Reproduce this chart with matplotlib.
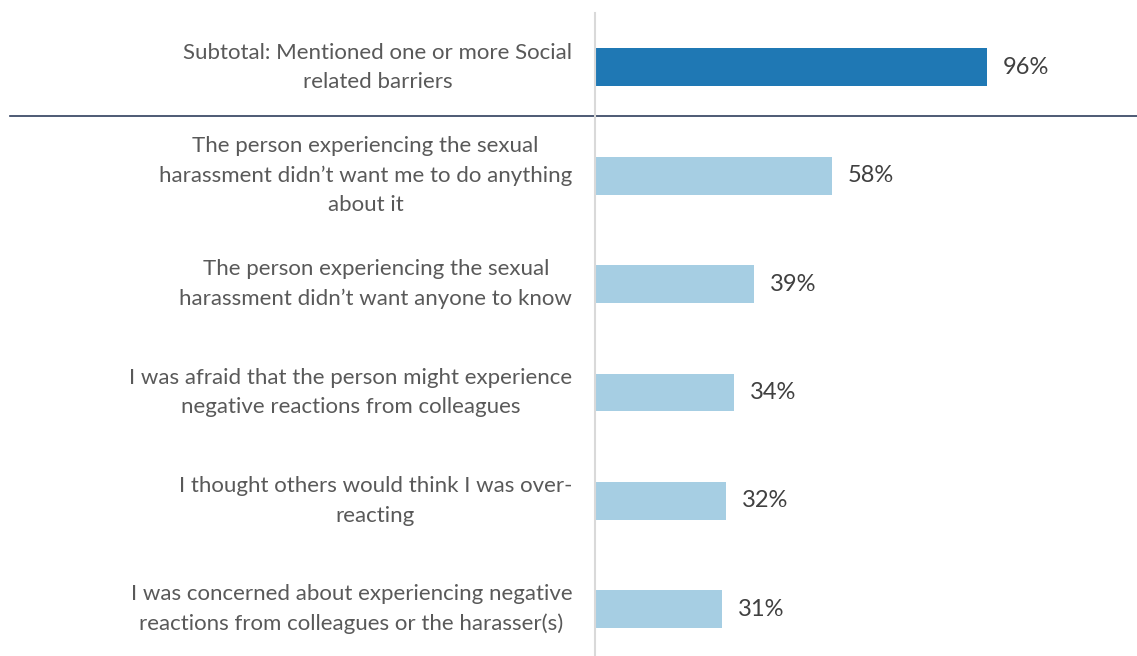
import matplotlib.pyplot as plt

# Data
labels = [
    "Subtotal: Mentioned one or more Social\nrelated barriers",
    "The person experiencing the sexual\nharassment didn\u2019t want me to do anything\nabout it",
    "The person experiencing the sexual\nharassment didn\u2019t want anyone to know",
    "I was afraid that the person might experience\nnegative reactions from colleagues",
    "I thought others would think I was over-\nreacting",
    "I was concerned about experiencing negative\nreactions from colleagues or the harasser(s)",
]
values = [96, 58, 39, 34, 32, 31]
colors = ["#1f78b4", "#a6cee3", "#a6cee3", "#a6cee3", "#a6cee3", "#a6cee3"]

plt.rcParams['font.family'] = ['Lato', 'DejaVu Sans']

fig = plt.figure(figsize=(11.37, 6.56), dpi=100)
ax = fig.add_axes([595 / 1137, 0, 542 / 1137, 643 / 656])

y = list(range(len(values)))
ax.barh(y, values, height=0.35, color=colors)

for yi, v, lab in zip(y, values, labels):
    ax.text(v + 3.9, yi, f"{v}%", va='center', ha='left', fontsize=17, color='#404040')
    ax.text(-5.6, yi, lab, va='center', ha='right', multialignment='center',
            fontsize=16, color='#595959', linespacing=1.58)

ax.set_xlim(0, 132.7)
ax.set_ylim(5.43, -0.5)

# separator under subtotal
ax.axhline(0.452, xmin=-1.079, xmax=1, color='#2f3e5c', linewidth=1.2, clip_on=False)

for s in ['top', 'right', 'bottom']:
    ax.spines[s].set_visible(False)
ax.spines['left'].set_color('#d9d9d9')
ax.spines['left'].set_linewidth(1.5)
ax.set_xticks([])
ax.set_yticks([])

fig.savefig("out.png", dpi=100)
